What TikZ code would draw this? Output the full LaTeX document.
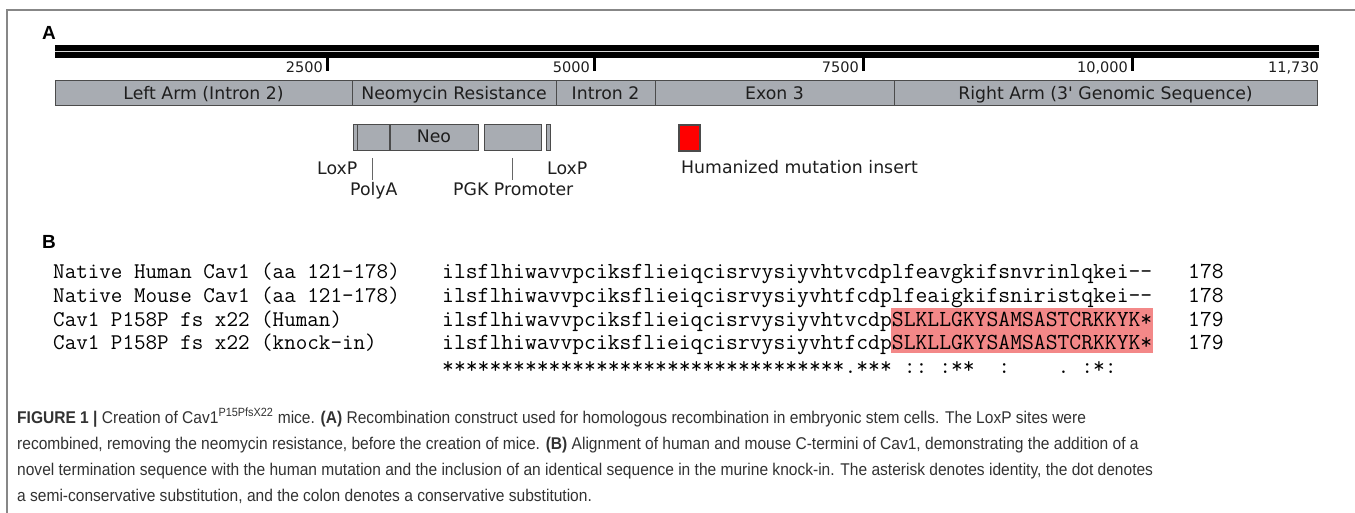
\documentclass[tikz,border=0pt]{standalone}
\usepackage{fontspec}
\usepackage{graphicx}
\setmainfont{DejaVu Sans}
\newfontfamily\vfont{DejaVu Sans}
\newfontfamily\afont{Liberation Sans}
\definecolor{boxfill}{RGB}{168,172,178}
\definecolor{boxline}{RGB}{75,75,75}
\definecolor{txt}{RGB}{30,30,30}
\definecolor{captxt}{RGB}{50,50,50}
\definecolor{frame}{RGB}{135,135,135}
\definecolor{hilite}{RGB}{243,136,136}
\definecolor{insred}{RGB}{255,0,0}
\newlength\capsegw
\newlength\monow
\newcommand\capsize{\afont\fontsize{17}{20}\selectfont}
\newcommand\capLineOne{\textbf{FIGURE 1} \textbf{|} Creation of Cav1\textsuperscript{P15PfsX22} mice. \textbf{(A)} Recombination construct used for homologous recombination in embryonic stem cells. The LoxP sites were}
\newcommand\capLineTwo{recombined, removing the neomycin resistance, before the creation of mice. \textbf{(B)} Alignment of human and mouse C-termini of Cav1, demonstrating the addition of a}
\newcommand\capLineThree{novel termination sequence with the human mutation and the inclusion of an identical sequence in the murine knock-in. The asterisk denotes identity, the dot denotes}
\newcommand\capLineFour{a semi-conservative substitution, and the colon denotes a conservative substitution.}
\begin{document}
\settowidth\capsegw{\capsize\capLineThree}
\pgfmathsetmacro\capx{1136/\capsegw}
\settowidth\monow{\ttfamily\fontsize{20}{24}\selectfont 0123456789}
\pgfmathsetmacro\seqsize{20*118.3/\monow}
\pgfmathsetmacro\labsize{20*115.5/\monow}
\tikzset{
  segbox/.style={draw=boxline, fill=boxfill, line width=1pt},
  vlab/.style={font=\vfont\fontsize{17.3}{20}\selectfont, text=txt, inner sep=0pt},
  tlab/.style={font=\vfont\fontsize{14.5}{17}\selectfont, text=txt, inner sep=0pt, anchor=base east},
  mono/.style={font=\ttfamily\fontsize{\seqsize}{24}\selectfont, text=black, inner sep=0pt, anchor=base west},
  monolab/.style={font=\ttfamily\fontsize{\labsize}{24}\selectfont, text=black, inner sep=0pt, anchor=base west},
  plab/.style={font=\afont\bfseries\fontsize{19}{22}\selectfont, text=black, inner sep=0pt, anchor=base west},
  capline/.style={font=\capsize, text=captxt, inner sep=0pt, anchor=base west},
  tickmark/.style={fill=black, draw=none},
  pointer/.style={draw=gray!80!black, line width=0.9pt}
}
\begin{tikzpicture}[x=1pt,y=-1pt]
\useasboundingbox (0,0) rectangle (1355,513);
% frame
\draw[frame, line width=1.3pt] (7,513) -- (7,10) -- (1355,10);
% panel labels
\node[plab] (labA) at (42,40) {A};
\node[plab] (labB) at (42,248) {B};
% ruler bar
\fill[black] (55,45) rectangle (1319,58);
\draw[white!85!black, line width=1.3pt] (55,51.8) -- (1319,51.8);
\foreach \x/\t/\n in {327/2500/t1, 594/5000/t2, 863/7500/t3, 1132/{10,000}/t4}{
  \fill[tickmark] (\x-1.5,58) rectangle (\x+1.5,71);
  \node[tlab] (\n) at (\x-4,72.5) {\t};
}
\node[tlab] (t5) at (1319,72.5) {11,730};
% segment bar
\draw[segbox] (55,81) rectangle (352,106);
\draw[segbox] (352,81) rectangle (556,106);
\draw[segbox] (556,81) rectangle (655,106);
\draw[segbox] (655,81) rectangle (894,106);
\draw[segbox] (894,81) rectangle (1317,106);
\node[vlab, anchor=base] (s1) at (203.5,99.5) {Left Arm (Intron 2)};
\node[vlab, anchor=base] (s2) at (454,99.5) {Neomycin Resistance};
\node[vlab, anchor=base] (s3) at (605.5,99.5) {Intron 2};
\node[vlab, anchor=base] (s4) at (774.5,99.5) {Exon 3};
\node[vlab, anchor=base] (s5) at (1105.5,99.5) {Right Arm (3\textquotesingle{} Genomic Sequence)};
% construct
\draw[segbox] (353,125) rectangle (357,151);
\draw[segbox] (357,125) rectangle (390,151);
\draw[segbox] (390,125) rectangle (478,151);
\draw[boxline, line width=2.6pt] (390,125) -- (390,151);
\draw[segbox] (484,125) rectangle (541,151);
\draw[segbox] (546,125) rectangle (550,151);
\node[vlab, anchor=base] (neo) at (434,143) {Neo};
\coordinate (pa1) at (372,158);
\coordinate (pa2) at (372,180);
\coordinate (pg1) at (512,158);
\coordinate (pg2) at (512,180);
\draw[pointer] (pa1) -- (pa2);
\draw[pointer] (pg1) -- (pg2);
\node[vlab, anchor=base west] (lox1) at (317,175) {LoxP};
\node[vlab, anchor=base west] (polya) at (350,196) {PolyA};
\node[vlab, anchor=base west] (pgk) at (453,196) {PGK Promoter};
\node[vlab, anchor=base west] (lox2) at (547,175) {LoxP};
\draw[boxline, fill=insred, line width=1.2pt] (679,125) rectangle (700,151);
\node[vlab, anchor=base west] (hum) at (681,174) {Humanized mutation insert};
% alignment
\fill[hilite] (891,308) rectangle (1153,353);
\node[monolab] (n1) at (53,279) {Native Human Cav1 (aa 121-178)};
\node[monolab] (n2) at (53,302.5) {Native Mouse Cav1 (aa 121-178)};
\node[monolab] (n3) at (53,326) {Cav1 P158P fs x22 (Human)};
\node[monolab] (n4) at (53,349.5) {Cav1 P158P fs x22 (knock-in)};
\node[mono] (q1) at (442,279) {ilsflhiwavvpciksflieiqcisrvysiyvhtvcdplfeavgkifsnvrinlqkei-{}-};
\node[mono] (q2) at (442,302.5) {ilsflhiwavvpciksflieiqcisrvysiyvhtfcdplfeaigkifsniristqkei-{}-};
\node[mono] (q3) at (442,326) {ilsflhiwavvpciksflieiqcisrvysiyvhtvcdpSLKLLGKYSAMSASTCRKKYK*};
\node[mono] (q4) at (442,349.5) {ilsflhiwavvpciksflieiqcisrvysiyvhtfcdpSLKLLGKYSAMSASTCRKKYK*};
\node[mono] (cons) at (442,373) {**********************************.***~::~:**~~:~~~~.~:*:};
\node[mono] (e1) at (1188,279) {178};
\node[mono] (e2) at (1188,302.5) {178};
\node[mono] (e3) at (1188,326) {179};
\node[mono] (e4) at (1188,349.5) {179};
% caption
\node[capline] (c1) at (17,423) {\scalebox{\capx}[1]{\capLineOne}};
\node[capline] (c2) at (17,449) {\scalebox{\capx}[1]{\capLineTwo}};
\node[capline] (c3) at (17,475) {\scalebox{\capx}[1]{\capLineThree}};
\node[capline] (c4) at (17,501) {\scalebox{\capx}[1]{\capLineFour}};
\end{tikzpicture}
\end{document}
